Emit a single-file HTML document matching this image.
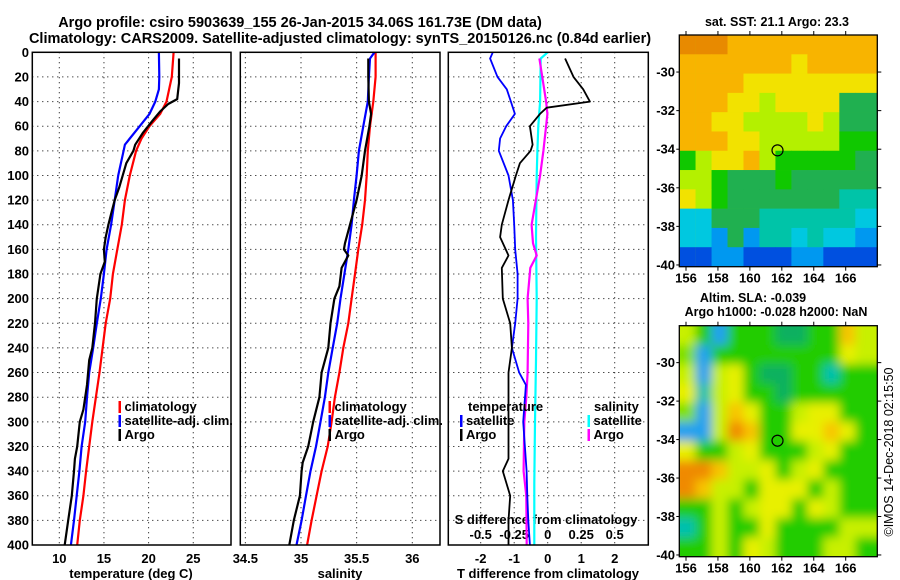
<!DOCTYPE html>
<html><head><meta charset="utf-8"><style>
body{margin:0;background:#fff;}
svg{display:block;font-family:"Liberation Sans",sans-serif;font-weight:bold;}
</style></head><body>
<svg id="chart" width="900" height="580" xmlns="http://www.w3.org/2000/svg">
<g id="titles" font-size="14.5" text-anchor="middle">
<text x="300" y="27">Argo profile: csiro 5903639_155 26-Jan-2015 34.06S 161.73E (DM data)</text>
<text x="340" y="43">Climatology: CARS2009. Satellite-adjusted climatology: synTS_20150126.nc (0.84d earlier)</text>
</g>
<g id="plots"></g>
</svg>
<script>
// ---- data (depth in m) ----
const depthTicks=[0,20,40,60,80,100,120,140,160,180,200,220,240,260,280,300,320,340,360,380,400];
const tempTicks=[10,15,20,25];
const salTicks=[34.5,35,35.5,36];
const dtTicks=[-2,-1,0,1,2];
const dsTicks=[-0.5,-0.25,0,0.25,0.5];
const dsTickLabels=["-0.5","-0.25","0","0.25","0.5"];
const lonTicks=[156,158,160,162,164,166];
const latTicks=[-30,-32,-34,-36,-38,-40];

const tClimDepth=[0,20,40,50,60,70,80,100,120,140,160,180,200,220,240,260,280,300,320,340,360,380,400];
const tClim=[22.8,22.6,22.0,21.3,20.1,19.2,18.6,17.9,17.35,17.0,16.5,16.0,15.7,15.2,14.85,14.5,14.1,13.7,13.35,13.0,12.7,12.3,12.0];
const tSatDepth=[0,20,30,40,50,60,70,75,80,100,120,140,160,180,200,220,240,260,280,300,320,340,360,380,400];
const tSat=[21.15,21.2,21.15,20.75,20.1,19.0,17.9,17.35,17.2,16.6,16.2,15.8,15.3,15.0,14.65,14.2,13.8,13.35,13.1,12.9,12.5,12.25,11.95,11.65,11.3];
const tArgoDepth=[5,25,38,42,48,55,65,75,80,90,100,110,120,130,140,150,160,170,180,200,220,240,250,270,290,300,320,330,340,360,380,400];
const tArgo=[23.4,23.4,23.2,22.2,21.3,20.5,19.4,18.5,18.3,17.5,17.1,16.7,16.2,15.85,15.5,15.2,15.0,15.1,14.6,14.2,14.0,13.7,13.35,13.1,12.7,12.3,12.0,11.75,11.65,11.4,11.0,10.6];

const sClimDepth=[0,20,40,60,80,100,120,140,160,180,200,220,240,260,280,300,320,340,360,380,400];
const sClim=[35.67,35.67,35.65,35.62,35.60,35.59,35.575,35.55,35.515,35.485,35.455,35.425,35.38,35.345,35.305,35.275,35.24,35.185,35.14,35.095,35.055];
const sSatDepth=[0,5,20,40,60,80,100,120,140,160,180,200,220,240,260,280,300,320,340,360,380,400];
const sSat=[35.66,35.62,35.61,35.60,35.56,35.52,35.5,35.475,35.455,35.425,35.39,35.355,35.325,35.285,35.245,35.215,35.175,35.135,35.085,35.045,35.005,34.96];
const sArgoDepth=[5,20,40,50,60,80,100,120,140,155,160,165,175,190,200,220,240,260,280,300,320,333,340,360,380,400];
const sArgo=[35.605,35.605,35.61,35.63,35.615,35.575,35.545,35.5,35.44,35.395,35.385,35.425,35.365,35.345,35.3,35.265,35.245,35.185,35.165,35.11,35.065,35.015,35.005,34.99,34.935,34.895];

const dtSatDepth=[0,5,20,30,40,50,60,70,80,100,120,140,160,180,200,220,240,260,270,300,320,340,360,380,400];
const dtSat=[-1.64,-1.72,-1.5,-1.22,-1.1,-0.98,-1.24,-1.42,-1.46,-1.17,-1.04,-1.0,-0.97,-0.9,-0.9,-0.97,-1.07,-0.85,-0.65,-0.73,-0.68,-0.63,-0.61,-0.58,-0.53];
const dtArgoDepth=[5,20,30,40,45,50,60,75,80,90,100,120,140,150,165,175,200,220,240,260,280,300,330,340,360,380,400];
const dtArgo=[0.52,0.77,1.06,1.26,-0.03,-0.23,-0.53,-0.45,-0.51,-0.83,-0.95,-1.17,-1.37,-1.42,-1.17,-1.37,-1.34,-1.12,-1.07,-1.17,-1.17,-1.17,-1.17,-1.34,-1.12,-1.17,-1.17];
const dsSatDepth=[0,5,40,60,80,100,150,200,250,300,350,400];
const dsSat=[0,-0.052,-0.057,-0.07,-0.077,-0.082,-0.087,-0.082,-0.087,-0.095,-0.1,-0.1];
const dsArgoDepth=[5,40,50,60,80,100,140,155,165,175,200,220,260,280,300,340,360,400];
const dsArgo=[-0.062,-0.012,-0.002,-0.012,-0.032,-0.057,-0.12,-0.11,-0.082,-0.13,-0.15,-0.145,-0.15,-0.16,-0.175,-0.18,-0.16,-0.157];

const sstRows=["OOOooooooooo","oooooooYoooo","ooooYYYYYYYY","oooYYLYYYYDD","ooYYLLLLYLDD","oooYYLLLLLGG","GLYYoLGGGGGD","LLGDDDGDDDDD","YLGDDDDDDDTT","CCDDDTTTTTTC","CCBDBTTCTCCB","bbBBbbbBBbbb"];
const slaRows=["yGBGGGDDGGoy","LBGGGGGGGGYy","yByYGDDGGCGG","YCyYGGDGGGGG","LByoYGGyYYGG","BByOoGGYYoYG","YGGyYGGGyYGG","OOoyyYGyYGGG","OoyyGYYYGyGG","GGyGyYYGYyGG","CGyGGYGGGGyy","GGyGYyGGGyyG"];
const argoLon=161.73, argoLat=-34.06;

// ---- scales ----
const NS="http://www.w3.org/2000/svg";
const root=document.getElementById('plots');
function el(tag,attrs,parent,text){const e=document.createElementNS(NS,tag);for(const k in attrs)e.setAttribute(k,attrs[k]);if(text!==undefined)e.textContent=text;(parent||root).appendChild(e);return e;}
const Y0=52.3,Y1=545;
const yD=d=>Y0+d*(Y1-Y0)/400;
const xT=t=>59.3+(t-10)*8.93;
const xS=s=>301+(s-35)*111.3;
const xDT=v=>547.7+v*33.5;
const xDS=v=>547.7+v*134;
const panels=[[32.3,231],[240.3,440],[448.3,648.3]];

function line(xs,ds,fx,color,w,name){
  let p='';for(let i=0;i<xs.length;i++)p+=(i?'L':'M')+fx(xs[i]).toFixed(1)+','+yD(ds[i]).toFixed(1);
  const e=el('path',{d:p,fill:'none',stroke:color,'stroke-width':w,'stroke-linejoin':'round'});
  
  
}

panels.forEach((pn,i)=>{
  const g=el('g',{});
  
  
  depthTicks.forEach(d=>{ if(d>0&&d<400) el('line',{x1:pn[0],x2:pn[1],y1:yD(d),y2:yD(d),stroke:'#000','stroke-dasharray':'1,4','stroke-width':1},g);});
  const xt=i==0?tempTicks.map(xT):i==1?salTicks.map(xS):dtTicks.map(xDT);
  xt.forEach(x=>{ if(x>pn[0]+1&&x<pn[1]-1) el('line',{x1:x,x2:x,y1:Y0,y2:Y1,stroke:'#000','stroke-dasharray':'1,4','stroke-width':1},g);});
});
depthTicks.forEach(d=>{const t=el('text',{x:29,y:yD(d)+4.5,'font-size':13,'text-anchor':'end'},root,String(d));
  });
tempTicks.forEach(v=>{const t=el('text',{x:xT(v),y:563,'font-size':13,'text-anchor':'middle'},root,String(v));
  });
salTicks.forEach(v=>{const t=el('text',{x:xS(v),y:563,'font-size':13,'text-anchor':'middle'},root,String(v));
  });
dtTicks.forEach(v=>{const t=el('text',{x:xDT(v),y:563,'font-size':13,'text-anchor':'middle'},root,String(v));
  });
dsTicks.forEach((v,i)=>{const t=el('text',{x:xDS(v),y:539,'font-size':13,'text-anchor':'middle'},root,dsTickLabels[i]);
  });
[[131,'temperature (deg C)','x-axis-title-temperature'],[340,'salinity','x-axis-title-salinity'],[548,'T difference from climatology','x-axis-title-t-diff']].forEach(a=>{
  const t=el('text',{x:a[0],y:578,'font-size':13,'text-anchor':'middle'},root,a[1]);
  });
{const t=el('text',{x:546,y:524,'font-size':13,'text-anchor':'middle'},root,'S difference from climatology');
 }

line(tClim,tClimDepth,xT,'#f00',2.2,'temp-climatology-line');
line(tSat,tSatDepth,xT,'#00f',2.2,'temp-satellite-line');
line(tArgo,tArgoDepth,xT,'#000',2.2,'temp-argo-line');
line(sClim,sClimDepth,xS,'#f00',2.2,'sal-climatology-line');
line(sSat,sSatDepth,xS,'#00f',2.2,'sal-satellite-line');
line(sArgo,sArgoDepth,xS,'#000',2.2,'sal-argo-line');
line(dsSat,dsSatDepth,xDS,'#00ffff',2.2,'s-diff-satellite-line');
line(dsArgo,dsArgoDepth,xDS,'#ff00ff',2.2,'s-diff-argo-line');
line(dtSat,dtSatDepth,xDT,'#00f',1.8,'t-diff-satellite-line');
line(dtArgo,dtArgoDepth,xDT,'#000',1.8,'t-diff-argo-line');

panels.forEach(pn=>{const r=el('rect',{x:pn[0],y:Y0,width:pn[1]-pn[0],height:Y1-Y0,fill:'none',stroke:'#000','stroke-width':1.5});
  });

function leg(x,y,color,label){const g=el('g',{});
  
  el('rect',{x:x,y:y-10,width:2.5,height:12,fill:color},g);
  el('text',{x:x+6,y:y,'font-size':13},g,label);}
leg(118.5,411,'#f00','climatology');leg(118.5,425,'#00f','satellite-adj. clim.');leg(118.5,439,'#000','Argo');
leg(328.5,411,'#f00','climatology');leg(328.5,425,'#00f','satellite-adj. clim.');leg(328.5,439,'#000','Argo');
{const t=el('text',{x:468,y:411,'font-size':13},root,'temperature');}
{const t=el('text',{x:594,y:411,'font-size':13},root,'salinity');}
leg(460,425,'#00f','satellite');leg(460,439,'#000','Argo');
leg(587.5,425,'#00ffff','satellite');leg(587.5,439,'#ff00ff','Argo');

const sstCol={O:'#e88a00',o:'#f8b400',Y:'#f2e200',L:'#b4f000',G:'#10c800',D:'#20b050',T:'#00c4a8',C:'#00c8e0',B:'#0098f0',b:'#0050e0',N:'#0010a0'};
const slaCol={y:'#c8f000',Y:'#e8f000',L:'#80e000',G:'#20cc00',D:'#10b060',C:'#00c0b0',B:'#20a0f0',O:'#f08a00',o:'#f8c400'};
function drawMap(top,bottom,rows,cols,name,blur){
  const L=679.3,R=877.3;
  const xLon=lon=>686+(lon-156)*15.97;
  const yLat=lat=>top+(-28.08-lat)*(bottom-top)/12.01;
  const g=el('g',{});
  
  const cid='clip'+name;
  const cp=el('clipPath',{id:cid},g);el('rect',{x:L,y:top,width:R-L,height:bottom-top},cp);
  const inner=el('g',{'clip-path':'url(#'+cid+')'},g);
  const cells=el('g',blur?{filter:'url(#blur)'}:{},inner);
  el('rect',{x:L-10,y:top-10,width:R-L+20,height:bottom-top+20,fill:cols[rows[5][5]]},cells);
  rows.forEach((r,ri)=>{for(let ci=0;ci<r.length;ci++){
    const lon0=155.6+ci, lat0=-28.08-ri;
    const w=ci==r.length-1?40:16.1;
    const x=ci==0?L-10:xLon(lon0);
    const hh=ri==rows.length-1?40:(yLat(lat0-1)-yLat(lat0)+0.3);
    const y=ri==0?top-10:yLat(lat0);
    el('rect',{x:x,y:y,width:(ci==0?w+10:w)+0.3,height:(ri==0?hh+10:hh),fill:cols[r[ci]]},cells);}});
  el('circle',{cx:xLon(argoLon),cy:yLat(argoLat),r:5.5,fill:'none',stroke:'#000','stroke-width':1.2},inner);
  el('rect',{x:L,y:top,width:R-L,height:bottom-top,fill:'none',stroke:'#000','stroke-width':1.3},g);
  lonTicks.forEach(v=>{const x=xLon(v);
    el('line',{x1:x,x2:x,y1:top,y2:top-4,stroke:'#000'},g);
    el('line',{x1:x,x2:x,y1:bottom,y2:bottom+4,stroke:'#000'},g);
    const t=el('text',{x:x,y:bottom+16,'font-size':13,'text-anchor':'middle'},g,String(v));
    });
  latTicks.forEach(v=>{const y=yLat(v);
    el('line',{x1:R,x2:R+4,y1:y,y2:y,stroke:'#000'},g);
    el('line',{x1:L,x2:L-3,y1:y,y2:y,stroke:'#000'},g);
    const t=el('text',{x:675,y:y+4.5,'font-size':13,'text-anchor':'end'},g,String(v));
    });
}
const defs=el('defs',{});const f=el('filter',{id:'blur',x:'-10%',y:'-10%',width:'120%',height:'120%'},defs);
el('feGaussianBlur',{stdDeviation:5},f);
drawMap(35,266.7,sstRows,sstCol,'sst-map',false);
drawMap(325.7,556.7,slaRows,slaCol,'sla-map',true);
[[777,26,'sat. SST: 21.1 Argo: 23.3','sst-map-title'],[753,302,'Altim. SLA: -0.039','sla-map-title'],[776,316,'Argo h1000: -0.028 h2000: NaN','sla-map-subtitle']].forEach(a=>{
  const t=el('text',{x:a[0],y:a[1],'font-size':12.5,'text-anchor':'middle'},root,a[2]);
  });
{const t=el('text',{x:0,y:0,'font-size':12.5,'font-weight':'normal','text-anchor':'middle',transform:'translate(893,452) rotate(-90)'},root,'©IMOS 14-Dec-2018 02:15:50');
 }
</script>
</body></html>
